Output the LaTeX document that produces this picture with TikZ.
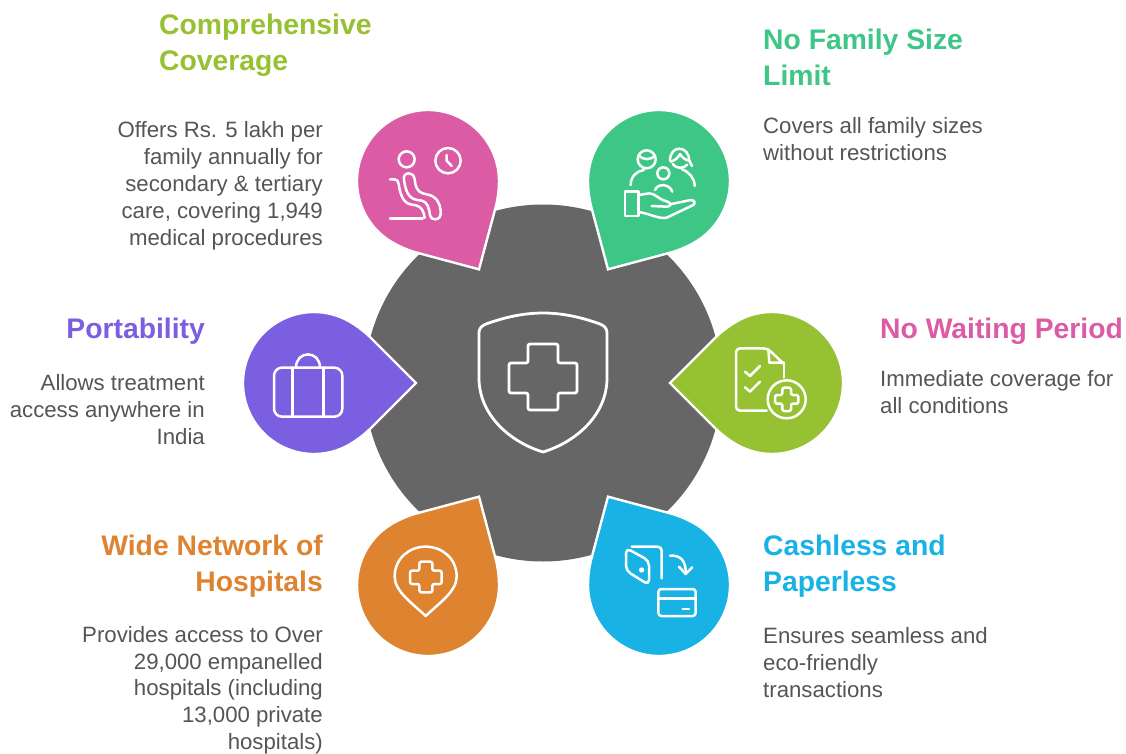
\documentclass[tikz,border=0pt]{standalone}
\usepackage{fontspec}
\setmainfont{Liberation Sans}
\definecolor{cpink}{HTML}{DB5CA5}
\definecolor{cgreen}{HTML}{3EC686}
\definecolor{cpurple}{HTML}{7A5FE0}
\definecolor{clime}{HTML}{96C132}
\definecolor{corange}{HTML}{DE8431}
\definecolor{cblue}{HTML}{18B2E5}
\definecolor{cgray}{HTML}{666666}
\definecolor{ctext}{HTML}{555555}
\tikzset{
  pinbody/.style={draw=white,line width=2.4pt,miter limit=10},
  ic/.style={draw=white,line width=2.5pt,line cap=round,line join=round},
  ticon/.style={draw=white,line width=2.8pt,line cap=round,line join=round},
  head/.style={font=\fontsize{28.3}{36}\selectfont\bfseries,inner sep=0pt},
  bodyt/.style={font=\fontsize{22.2}{27}\selectfont,inner sep=0pt,text=ctext},
  bodytight/.style={font=\fontsize{22.2}{26.6}\selectfont,inner sep=0pt,text=ctext}
}
\newcommand{\pinat}[4]{%
  \path[pinbody,fill=#4,shift={(#1,#2)},rotate=#3]
    (102,0) -- (57,45) .. controls (51,51) and (44,56.5) .. (35.5,61.5)
    arc[start angle=60,end angle=300,radius=71pt]
    .. controls (44,-56.5) and (51,-51) .. (57,-45) -- cycle;}
\begin{document}
\begin{tikzpicture}[x=1pt,y=1pt,yscale=-1]
\useasboundingbox (0,0) rectangle (1126,754);
\fill[white] (0,0) rectangle (1126,754);
\fill[cgray] (543,383) circle[radius=178.5pt];
\pinat{428}{181}{60}{cpink}
\pinat{659}{181}{120}{cgreen}
\pinat{314}{383}{0}{cpurple}
\pinat{772}{383}{180}{clime}
\pinat{428}{585}{-60}{corange}
\pinat{659}{585}{-120}{cblue}
% central shield
\draw[ticon] (543,313) .. controls (520,313) and (500,319) .. (486,324)
  .. controls (481,326) and (479,329) .. (479,333) -- (479,378)
  .. controls (479,415) and (510,442) .. (543,452)
  .. controls (576,442) and (607,415) .. (607,378) -- (607,333)
  .. controls (607,329) and (605,326) .. (600,324)
  .. controls (586,319) and (566,313) .. (543,313) -- cycle;
\draw[ticon,rounded corners=2pt] (528,344) -- (558,344) -- (558,363) -- (577,363) -- (577,393) -- (558,393) -- (558,410) -- (528,410) -- (528,393) -- (509,393) -- (509,363) -- (528,363) -- cycle;
% pink icon
\begin{scope}[shift={(380,140)},scale=0.33333]
\draw[ic] (80,58) circle[radius=24];
\draw[ic] (204,62) circle[radius=38];
\draw[ic] (200,45) -- (200,62) -- (215,78);
\draw[ic] (30,236) -- (128,236);
\draw[ic] (30,118) -- (44,118) .. controls (52,118) and (54,124) .. (56,132)
  .. controls (60,160) and (68,190) .. (95,194) -- (108,196)
  .. controls (125,200) and (132,215) .. (134,234);
\draw[ic] (150,226) .. controls (151,234) and (158,238) .. (166,238)
  .. controls (178,238) and (184,228) .. (182,212)
  .. controls (180,190) and (170,168) .. (140,163) -- (128,160)
  .. controls (112,155) and (106,140) .. (104,118)
  .. controls (102,105) and (95,100) .. (86,100)
  .. controls (76,100) and (70,108) .. (72,118)
  .. controls (76,150) and (84,176) .. (112,180) -- (126,182)
  .. controls (142,186) and (148,205) .. (150,226);
\end{scope}
% green icon
\begin{scope}[shift={(620,140)},scale=0.33333]
\draw[ic] (80,58) circle[radius=27];
\draw[ic] (56,45) .. controls (70,62) and (90,60) .. (105,48);
\draw[ic] (150,62) .. controls (150,40) and (162,26) .. (178,26) .. controls (195,26) and (208,42) .. (208,62) -- (216,78);
\draw[ic] (152,65) .. controls (165,62) and (175,52) .. (180,42) .. controls (186,52) and (196,60) .. (207,62);
\draw[ic] (158,72) .. controls (170,88) and (190,86) .. (202,74);
\draw[ic] (130,100) circle[radius=18];
\draw[ic] (32,135) .. controls (32,110) and (50,92) .. (72,90);
\draw[ic] (224,138) .. controls (224,115) and (208,96) .. (186,88);
\draw[ic] (105,150) .. controls (112,130) and (148,130) .. (157,155);
\draw[ic] (15,155) rectangle (55,228);
\draw[ic] (57,165) -- (88,160) .. controls (105,160) and (115,178) .. (140,184) .. controls (155,188) and (155,200) .. (140,200) -- (95,198);
\draw[ic] (150,193) -- (212,180) .. controls (225,180) and (228,190) .. (218,196) -- (140,233) .. controls (120,238) and (90,222) .. (57,216);
\end{scope}
% purple icon
\begin{scope}[shift={(240,300)},scale=0.33333]
\draw[ic,rounded corners=8pt] (102,203) rectangle (307,350);
\draw[ic] (158,203) -- (158,350);
\draw[ic] (250,203) -- (250,350);
\draw[ic] (168,203) .. controls (168,150) and (240,150) .. (240,203);
\end{scope}
% lime icon
\begin{scope}[shift={(660,300)},scale=0.33333]
\draw[ic,rounded corners=4pt] (320,332) -- (228,332) -- (228,145) -- (322,145) -- (372,192);
\draw[ic] (372,192) -- (372,232);
\draw[ic] (325,148) -- (328,188) -- (372,188);
\draw[ic] (255,215) -- (270,228) -- (300,198);
\draw[ic] (255,262) -- (270,275) -- (300,245);
\draw[ic] (380,298) circle[radius=57];
\draw[ic,rounded corners=1.5pt] (367,263) -- (393,263) -- (393,285) -- (415,285) -- (415,311) -- (393,311) -- (393,333) -- (367,333) -- (367,311) -- (345,311) -- (345,285) -- (367,285) -- cycle;
\end{scope}
% orange icon
\begin{scope}[shift={(350,380)},scale=0.33333]
\draw[ic] (227,708) .. controls (190,672) and (134,635) .. (134,590) .. controls (134,535) and (178,500) .. (227,500) .. controls (276,500) and (320,535) .. (320,590) .. controls (320,635) and (264,672) .. (227,708) -- cycle;
\draw[ic,rounded corners=2pt] (208,545) -- (247,545) -- (247,572) -- (275,572) -- (275,612) -- (247,612) -- (247,637) -- (208,637) -- (208,612) -- (180,612) -- (180,572) -- (208,572) -- cycle;
\end{scope}
% blue icon
\begin{scope}[shift={(615,540)},scale=0.33333]
\draw[ic,rounded corners=5pt] (33,24) -- (102,62) -- (102,135) -- (33,92) -- cycle;
\draw[ic,rounded corners=4pt] (50,20) -- (140,20) -- (140,115);
\fill[white] (80,90) circle[radius=8];
\draw[ic] (165,47) .. controls (195,45) and (213,60) .. (212,100);
\draw[ic] (192,80) -- (212,102) -- (232,82);
\draw[ic,rounded corners=3pt] (130,147) rectangle (242,228);
\draw[ic] (130,175) -- (242,175);
\draw[ic] (203,207) -- (222,207);
\end{scope}
% texts
\node[head,text=clime,align=left,anchor=north west] (t1) at (159,14) {Comprehensive\\Coverage};
\node[bodyt,align=right,anchor=north east] (b1) at (323,121) {Offers Rs. 5 lakh per\\family annually for\\secondary \& tertiary\\care, covering 1,949\\medical procedures};
\node[head,text=cgreen,align=left,anchor=north west] (t2) at (763,29) {No Family Size\\Limit};
\node[bodyt,align=left,anchor=north west] (b2) at (763,117) {Covers all family sizes\\without restrictions};
\node[head,text=cpurple,align=right,anchor=north east] (t3) at (205,318) {Portability};
\node[bodyt,align=right,anchor=north east] (b3) at (205,374) {Allows treatment\\access anywhere in\\India};
\node[head,text=cpink,align=left,anchor=north west] (t4) at (880,318) {No Waiting Period};
\node[bodyt,align=left,anchor=north west] (b4) at (880,370) {Immediate coverage for\\all conditions};
\node[head,text=corange,align=right,anchor=north east] (t5) at (323,535) {Wide Network of\\Hospitals};
\node[bodytight,align=right,anchor=north east] (b5) at (323,626.5) {Provides access to Over\\29,000 empanelled\\hospitals (including\\13,000 private\\hospitals)};
\node[head,text=cblue,align=left,anchor=north west] (t6) at (763,535) {Cashless and\\Paperless};
\node[bodyt,align=left,anchor=north west] (b6) at (763,627) {Ensures seamless and\\eco-friendly\\transactions};
\end{tikzpicture}
\end{document}
